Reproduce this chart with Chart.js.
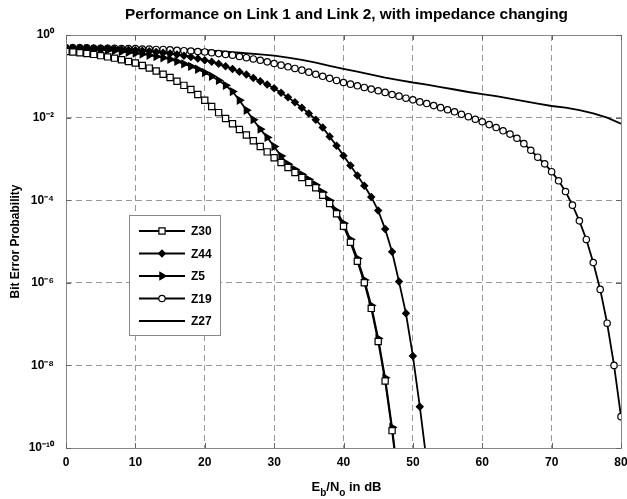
<!DOCTYPE html>
<html>
<head>
<meta charset="utf-8">
<script src="https://cdn.jsdelivr.net/npm/chart.js@4.4.1/dist/chart.umd.min.js"></script>
<style>
  html, body { margin: 0; padding: 0; background: #fff; }
  canvas { display: block; }
</style>
</head>
<body>
<canvas id="berChart" width="627" height="499"></canvas>
<script>
/* --------- データ --------- */
// Eb/No (dB) の目盛り位置（マーカー付き系列は 1 dB 刻み）
const ebno = [
  0, 1, 2, 3, 4, 5, 6, 7, 8, 9, 10, 11, 12, 13, 14, 15, 16, 17, 18, 19, 20,
  21, 22, 23, 24, 25, 26, 27, 28, 29, 30, 31, 32, 33, 34, 35, 36, 37, 38, 39, 40,
  41, 42, 43, 44, 45, 46, 47, 48, 49, 50, 51, 52, 53, 54, 55, 56, 57, 58, 59, 60,
  61, 62, 63, 64, 65, 66, 67, 68, 69, 70, 71, 72, 73, 74, 75, 76, 77, 78, 79, 80
];

// 各インピーダンスのビット誤り率
const berZ30 = [
  3.98e-1, 3.89e-1, 3.72e-1, 3.55e-1, 3.39e-1, 3.16e-1, 2.95e-1, 2.75e-1, 2.51e-1, 2.29e-1,
  2.09e-1, 1.82e-1, 1.58e-1, 1.35e-1, 1.12e-1, 9.33e-2, 7.59e-2, 6.03e-2, 4.79e-2, 3.63e-2,
  2.63e-2, 1.86e-2, 1.32e-2, 9.55e-3, 7.08e-3, 5.13e-3, 3.80e-3, 2.75e-3, 2.00e-3, 1.48e-3,
  1.07e-3, 8.13e-4, 6.17e-4, 4.68e-4, 3.55e-4, 2.69e-4, 2.00e-4, 1.32e-4, 8.32e-5, 4.68e-5,
  2.34e-5, 9.55e-6, 3.31e-6, 1.00e-6, 2.40e-7, 3.80e-8, 4.17e-9, 2.63e-10, 1.00e-11
];
const berZ44 = [
  4.90e-1, 4.90e-1, 4.90e-1, 4.79e-1, 4.79e-1, 4.68e-1, 4.68e-1, 4.57e-1, 4.47e-1, 4.37e-1,
  4.27e-1, 4.17e-1, 4.07e-1, 3.89e-1, 3.72e-1, 3.55e-1, 3.39e-1, 3.16e-1, 2.95e-1, 2.69e-1,
  2.45e-1, 2.24e-1, 2.00e-1, 1.74e-1, 1.51e-1, 1.29e-1, 1.10e-1, 9.12e-2, 7.59e-2, 6.31e-2,
  5.13e-2, 3.98e-2, 3.09e-2, 2.34e-2, 1.74e-2, 1.26e-2, 8.91e-3, 5.75e-3, 3.47e-3, 2.09e-3,
  1.20e-3, 6.92e-4, 3.98e-4, 2.24e-4, 1.20e-4, 5.62e-5, 2.00e-5, 5.62e-6, 1.07e-6, 1.82e-7,
  1.70e-8, 1.00e-9, 4.47e-11
];
const berZ5 = [
  4.68e-1, 4.68e-1, 4.57e-1, 4.57e-1, 4.47e-1, 4.37e-1, 4.27e-1, 4.17e-1, 3.98e-1, 3.80e-1,
  3.63e-1, 3.47e-1, 3.24e-1, 3.02e-1, 2.82e-1, 2.57e-1, 2.29e-1, 2.00e-1, 1.74e-1, 1.48e-1,
  1.23e-1, 1.00e-1, 7.94e-2, 6.03e-2, 4.27e-2, 2.63e-2, 1.51e-2, 8.91e-3, 5.25e-3, 3.31e-3,
  2.00e-3, 1.17e-3, 7.41e-4, 5.50e-4, 4.17e-4, 3.16e-4, 2.34e-4, 1.55e-4, 9.77e-5, 5.50e-5,
  2.75e-5, 1.12e-5, 3.89e-6, 1.17e-6, 2.82e-7, 4.47e-8, 5.01e-9, 3.16e-10, 1.26e-11
];
const berZ19 = [
  4.90e-1, 4.90e-1, 4.90e-1, 4.90e-1, 4.79e-1, 4.79e-1, 4.79e-1, 4.79e-1, 4.68e-1, 4.68e-1,
  4.68e-1, 4.57e-1, 4.57e-1, 4.47e-1, 4.47e-1, 4.37e-1, 4.27e-1, 4.17e-1, 4.07e-1, 3.98e-1,
  3.89e-1, 3.72e-1, 3.55e-1, 3.39e-1, 3.24e-1, 3.02e-1, 2.82e-1, 2.63e-1, 2.45e-1, 2.24e-1,
  2.04e-1, 1.86e-1, 1.70e-1, 1.55e-1, 1.41e-1, 1.26e-1, 1.12e-1, 1.00e-1, 8.91e-2, 7.94e-2,
  7.08e-2, 6.46e-2, 5.89e-2, 5.37e-2, 4.90e-2, 4.47e-2, 4.07e-2, 3.63e-2, 3.31e-2, 2.95e-2,
  2.69e-2, 2.40e-2, 2.19e-2, 1.95e-2, 1.74e-2, 1.55e-2, 1.38e-2, 1.20e-2, 1.05e-2, 9.12e-3,
  7.94e-3, 6.76e-3, 5.75e-3, 4.79e-3, 3.98e-3, 3.16e-3, 2.34e-3, 1.62e-3, 1.10e-3, 7.59e-4,
  4.90e-4, 2.95e-4, 1.62e-4, 7.59e-5, 3.16e-5, 1.12e-5, 3.09e-6, 6.92e-7, 1.05e-7, 1.00e-8,
  5.75e-10
];

// Z27 はマーカー無しの実線
const ebnoZ27 = [
  0, 5, 10, 15, 20, 25, 28, 30, 32, 34, 36, 38, 40, 42, 44, 46, 48,
  50, 52, 54, 56, 58, 60, 62, 64, 66, 68, 70, 72, 74, 76, 78, 80
];
const berZ27 = [
  4.90e-1, 4.90e-1, 4.79e-1, 4.57e-1, 4.27e-1, 3.72e-1, 3.39e-1, 3.16e-1, 2.82e-1, 2.51e-1,
  2.14e-1, 1.78e-1, 1.51e-1, 1.29e-1, 1.10e-1, 9.33e-2, 8.13e-2, 7.08e-2, 6.31e-2, 5.50e-2,
  4.79e-2, 4.17e-2, 3.72e-2, 3.31e-2, 2.88e-2, 2.51e-2, 2.19e-2, 1.91e-2, 1.74e-2, 1.51e-2,
  1.26e-2, 1.00e-2, 7.08e-3
];

// 軸の目盛り
const xTicks = [0, 10, 20, 30, 40, 50, 60, 70, 80];
const yTickValues = [1e-10, 1e-8, 1e-6, 1e-4, 1e-2, 1];
const yTickLabels = ["10⁻¹⁰", "10⁻⁸", "10⁻⁶", "10⁻⁴", "10⁻²", "10⁰"];

const seriesNames = ["Z30", "Z44", "Z5", "Z19", "Z27"];
const chartTitle = "Performance on Link 1 and Link 2, with impedance changing";

/* --------- ヘルパー --------- */
const FONT = "'Liberation Sans', Arial, sans-serif";

function toPoints(xs, ys) {
  return ys.map((y, i) => ({ x: xs[i], y }));
}

function makeDataset(label, data, marker) {
  return {
    label,
    data,
    borderColor: "#000",
    borderWidth: 1.8,
    pointStyle: marker.style,
    pointRadius: marker.radius,
    pointRotation: marker.rotation || 0,
    pointBorderColor: "#000",
    pointBackgroundColor: marker.fill,
    pointBorderWidth: 1.2,
    tension: 0,
  };
}

const markers = {
  Z30: { style: "rect", radius: 4.4, fill: "#fff" },
  Z44: { style: "rectRot", radius: 3.4, fill: "#000" },
  Z5: { style: "triangle", radius: 4.2, rotation: 90, fill: "#000" },
  Z19: { style: "circle", radius: 3.2, fill: "#fff" },
  Z27: { style: "circle", radius: 0, fill: "#000" },
};

// 凡例用のマーカー描画
function drawMarker(ctx, m, x, y) {
  if (!m.radius) return;
  const r = m.radius;
  ctx.beginPath();
  if (m.style === "rect") {
    const s = r * Math.SQRT1_2;
    ctx.rect(x - s, y - s, 2 * s, 2 * s);
  } else if (m.style === "rectRot") {
    ctx.moveTo(x, y - r);
    ctx.lineTo(x + r, y);
    ctx.lineTo(x, y + r);
    ctx.lineTo(x - r, y);
    ctx.closePath();
  } else if (m.style === "triangle") {
    ctx.moveTo(x + r, y);
    ctx.lineTo(x - r / 2, y - r * 0.866);
    ctx.lineTo(x - r / 2, y + r * 0.866);
    ctx.closePath();
  } else {
    ctx.arc(x, y, r, 0, Math.PI * 2);
  }
  ctx.fillStyle = m.fill;
  ctx.fill();
  ctx.lineWidth = 1.2;
  ctx.strokeStyle = "#000";
  ctx.stroke();
}

/* --------- プラグイン --------- */
// 枠線と内向きの目盛り線
const framePlugin = {
  id: "frame",
  afterDatasetsDraw(chart) {
    const { ctx, chartArea: a, scales } = chart;
    ctx.save();
    ctx.strokeStyle = "#888";
    ctx.lineWidth = 1;
    ctx.strokeRect(a.left + 0.5, a.top + 0.5, a.right - a.left, a.bottom - a.top);
    ctx.strokeStyle = "#666";
    ctx.beginPath();
    xTicks.forEach((v) => {
      const px = Math.round(scales.x.getPixelForValue(v)) + 0.5;
      ctx.moveTo(px, a.bottom);
      ctx.lineTo(px, a.bottom - 5);
      ctx.moveTo(px, a.top);
      ctx.lineTo(px, a.top + 5);
    });
    yTickValues.forEach((v) => {
      const py = Math.round(scales.y.getPixelForValue(v)) + 0.5;
      ctx.moveTo(a.left, py);
      ctx.lineTo(a.left + 5, py);
      ctx.moveTo(a.right, py);
      ctx.lineTo(a.right - 5, py);
    });
    ctx.stroke();
    ctx.restore();
  },
};

// グラフ内の凡例
const insideLegendPlugin = {
  id: "insideLegend",
  afterDraw(chart) {
    const { ctx } = chart;
    const box = { x: 129.5, y: 215.5, w: 91, h: 120 };
    ctx.save();
    ctx.fillStyle = "#fff";
    ctx.fillRect(box.x, box.y, box.w, box.h);
    ctx.strokeStyle = "#888";
    ctx.lineWidth = 1;
    ctx.strokeRect(box.x, box.y, box.w, box.h);
    ctx.font = "bold 12px " + FONT;
    ctx.textBaseline = "middle";
    seriesNames.forEach((name, i) => {
      const y = 231 + i * 22.5;
      ctx.beginPath();
      ctx.moveTo(139, y);
      ctx.lineTo(185, y);
      ctx.strokeStyle = "#000";
      ctx.lineWidth = 1.8;
      ctx.stroke();
      drawMarker(ctx, markers[name], 162, y);
      ctx.fillStyle = "#000";
      ctx.fillText(name, 191, y + 1);
    });
    ctx.restore();
  },
};

// タイトル（プロット領域の中央に配置）と X軸タイトル（下付き文字付き）
const textPlugin = {
  id: "texts",
  afterDraw(chart) {
    const { ctx, chartArea: a } = chart;
    const cx = (a.left + a.right) / 2;
    ctx.save();
    ctx.fillStyle = "#000";
    ctx.font = "bold 15.4px " + FONT;
    ctx.textAlign = "center";
    ctx.textBaseline = "middle";
    ctx.fillText(chartTitle, cx + 3, 15);

    const parts = [
      { t: "E", sub: false },
      { t: "b", sub: true },
      { t: "/N", sub: false },
      { t: "o", sub: true },
      { t: " in dB", sub: false },
    ];
    const big = "bold 13px " + FONT;
    const small = "bold 10px " + FONT;
    ctx.textAlign = "left";
    ctx.textBaseline = "alphabetic";
    let total = 0;
    parts.forEach((p) => {
      ctx.font = p.sub ? small : big;
      p.w = ctx.measureText(p.t).width;
      total += p.w;
    });
    let x = cx - total / 2 + 3;
    const base = 491;
    parts.forEach((p) => {
      ctx.font = p.sub ? small : big;
      ctx.fillText(p.t, x, p.sub ? base + 5 : base);
      x += p.w;
    });
    ctx.restore();
  },
};

/* --------- グラフ描画 --------- */
const datasets = [
  makeDataset("Z30", toPoints(ebno, berZ30), markers.Z30),
  makeDataset("Z44", toPoints(ebno, berZ44), markers.Z44),
  makeDataset("Z5", toPoints(ebno, berZ5), markers.Z5),
  makeDataset("Z19", toPoints(ebno, berZ19), markers.Z19),
  makeDataset("Z27", toPoints(ebnoZ27, berZ27), markers.Z27),
];

new Chart(document.getElementById("berChart"), {
  type: "line",
  data: { datasets },
  options: {
    responsive: false,
    animation: false,
    layout: { autoPadding: false, padding: { left: 0, right: 6, top: 35, bottom: 0 } },
    plugins: {
      legend: { display: false },
      tooltip: { enabled: false },
      title: { display: false },
    },
    scales: {
      x: {
        type: "linear",
        min: 0,
        max: 80,
        afterBuildTicks: (s) => { s.ticks = xTicks.map((v) => ({ value: v })); },
        afterFit: (s) => {
          s.height = 51;
          s.paddingLeft = 0;
          s.paddingRight = 0;
        },
        ticks: {
          color: "#000",
          font: { family: FONT, size: 12, weight: "bold" },
          padding: 7,
          maxRotation: 0,
        },
        grid: { color: "#999", lineWidth: 1, drawTicks: false },
        border: { display: false, dash: [6, 4] },
      },
      y: {
        type: "logarithmic",
        min: 1e-10,
        max: 1,
        afterBuildTicks: (s) => { s.ticks = yTickValues.map((v) => ({ value: v })); },
        afterFit: (s) => {
          s.width = 66;
          s.paddingTop = 0;
          s.paddingBottom = 0;
        },
        ticks: {
          color: "#000",
          font: { family: FONT, size: 12, weight: "bold" },
          padding: 12,
          callback: (v, i) => yTickLabels[i],
        },
        grid: { color: "#999", lineWidth: 1, drawTicks: false },
        border: { display: false, dash: [6, 4] },
        title: {
          display: true,
          text: "Bit Error Probability",
          color: "#000",
          font: { family: FONT, size: 12, weight: "bold" },
          padding: { top: 8, bottom: 0 },
        },
      },
    },
  },
  plugins: [framePlugin, insideLegendPlugin, textPlugin],
});
</script>
</body>
</html>
